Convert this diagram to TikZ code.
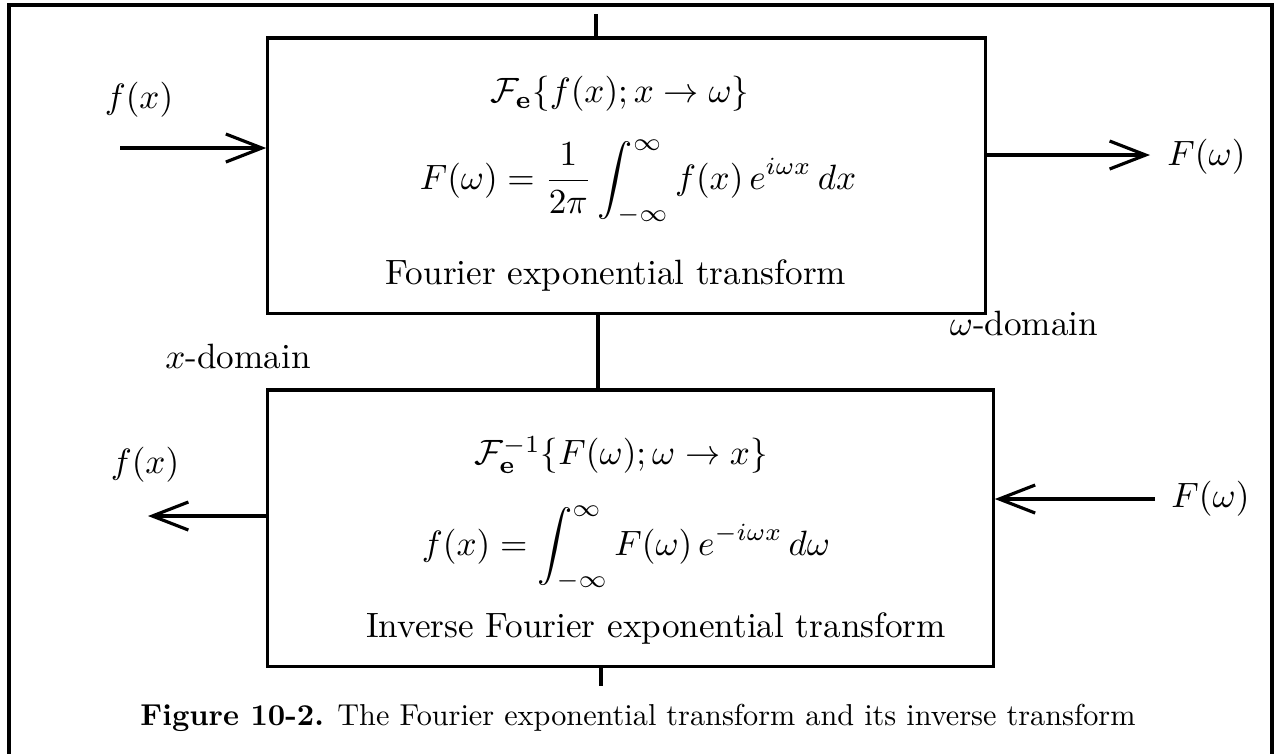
\documentclass[tikz,border=0pt]{standalone}
\usepackage{amsmath}
\usetikzlibrary{arrows.meta}
\tikzset{
    tbox/.style={draw, line width=0.9pt, inner sep=0pt},
    sig/.style={line width=0.9pt, -{Straight Barb[length=3.6mm, width=2.8mm, line width=0.9pt]}},
    link/.style={line width=0.9pt},
    txt/.style={inner sep=0pt},
}
\begin{document}
\begin{tikzpicture}[x=0.01cm, y=-0.01cm]
        \useasboundingbox (0,0) rectangle (1275,753);
        \draw[line width=1.3pt] (9,780) -- (9,5) -- (1272,5) -- (1272,780);
        % the two transform boxes
        \node[tbox, minimum width=7.17cm, minimum height=2.75cm] (fwd) at (626.5,175.5) {};
        \node[tbox, minimum width=7.25cm, minimum height=2.76cm] (inv) at (630.5,528) {};
        % forward transform
        \node[txt] (fwdop) at (620,94) {$\mathcal{F}_{\mathbf{e}}\{f(x); x\to\omega\}$};
        \node[txt] (fwdeq) at (638,182) {$\displaystyle F(\omega) = \frac{1}{2\pi}\int_{-\infty}^{\infty} f(x)\,e^{i\omega x}\,dx$};
        \node[txt] (fwdname) at (616,275) {Fourier exponential transform};
        % inverse transform
        \node[txt] (invop) at (621,455) {$\mathcal{F}_{\mathbf{e}}^{-1}\{F(\omega); \omega\to x\}$};
        \node[txt] (inveq) at (626,548) {$\displaystyle f(x) = \int_{-\infty}^{\infty} F(\omega)\,e^{-i\omega x}\,d\omega$};
        \node[txt] (invname) at (656,628) {Inverse Fourier exponential transform};
        % signals in and out
        \coordinate (fin) at (120,148);
        \coordinate (fout) at (1150,155);
        \coordinate (gin) at (1155,499);
        \coordinate (gout) at (148,516);
        \draw[sig] (fin) -- (fin -| fwd.west);
        \draw[sig] (fout -| fwd.east) -- (fout);
        \draw[sig] (gin) -- (gin -| inv.east);
        \draw[sig] (gout -| inv.west) -- (gout);
        \node (finlbl) at (139,100) {$f(x)$};
        \node[anchor=west] (foutlbl) at (1155,157) {$F(\omega)$};
        \node[anchor=west] (ginlbl) at (1159,499) {$F(\omega)$};
        \node (goutlbl) at (145,465) {$f(x)$};
        % domains
        \node (xdom) at (238,356) {$x$-domain};
        \node (wdom) at (1024,323) {$\omega$-domain};
        % links
        \coordinate (topend) at (596,14);
        \coordinate (midlink) at (598,0);
        \coordinate (botend) at (601,686);
        \draw[link] (topend) -- (topend |- fwd.north);
        \draw[link] (midlink |- fwd.south) -- (midlink |- inv.north);
        \draw[link] (botend |- inv.south) -- (botend);
        % caption
        \node[scale=0.86] (caption) at (638,718) {\textbf{Figure 10-2.} The Fourier exponential transform and its inverse transform};
\end{tikzpicture}
\end{document}
